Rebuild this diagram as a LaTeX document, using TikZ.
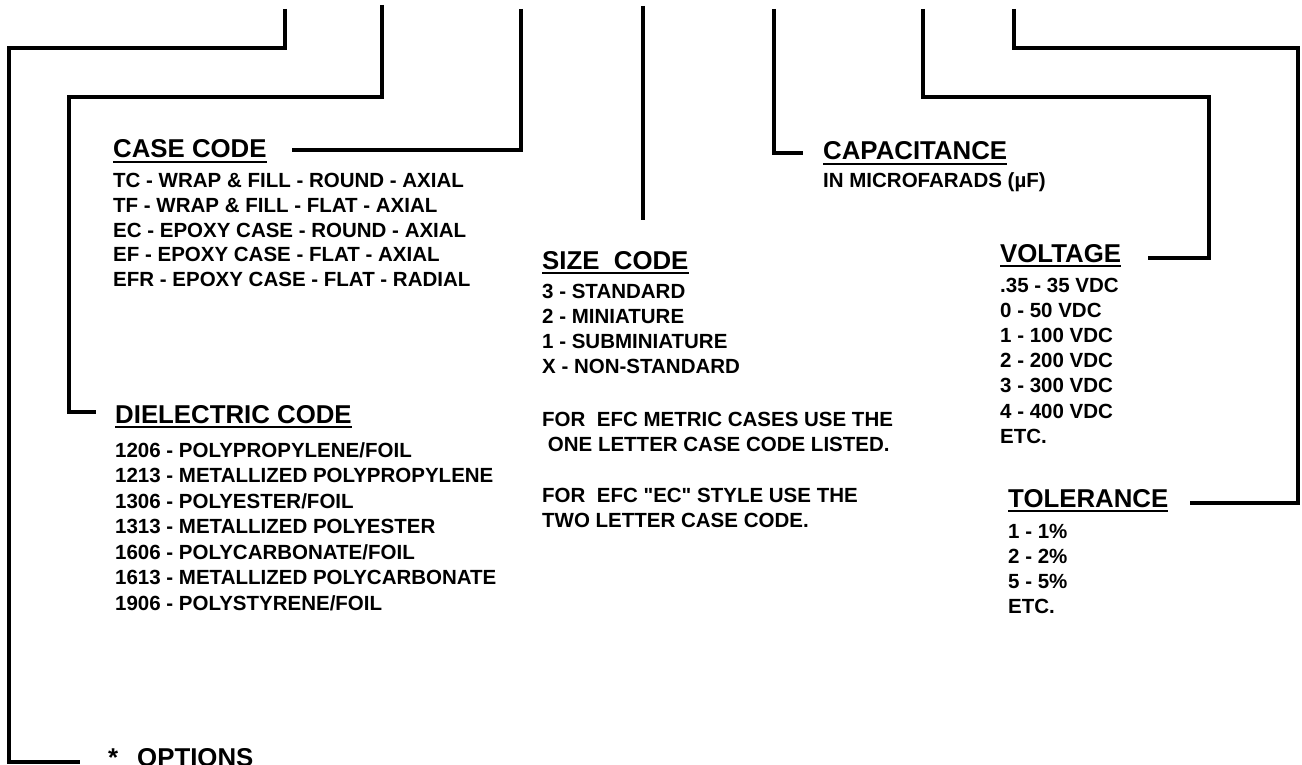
\documentclass[tikz,border=0pt]{standalone}
\usepackage{fontspec}
\setmainfont{Liberation Sans}
\newfontfamily\lsans{Liberation Sans}
\begin{document}
\begin{tikzpicture}[x=1pt,y=-1pt,
  conn/.style={line width=4pt, line join=miter},
  hdr/.style={anchor=base west, inner sep=0pt, font=\lsans\fontsize{25.8}{30}\selectfont\bfseries},
  body/.style={anchor=base west, inner sep=0pt, font=\lsans\fontsize{20.5}{25}\selectfont\bfseries},
  uline/.style={line width=1.5pt}]
\fill[white] (0,0) rectangle (1302,765);
\useasboundingbox (0,0) rectangle (1302,765);

% ---------- headers ----------
\node[hdr] (casehdr) at (113,158) {CASE CODE};
\node[hdr] (diehdr) at (115,423) {DIELECTRIC CODE};
\node[hdr] (sizehdr) at (542,269) {SIZE\ \ CODE};
\node[hdr] (caphdr) at (823,160) {CAPACITANCE};
\node[hdr] (volthdr) at (1000,262) {VOLTAGE};
\node[hdr] (tolhdr) at (1008,507) {TOLERANCE};
\node[hdr] (opthdr) at (108,766) {*\hspace{19pt}OPTIONS};
\foreach \n in {casehdr,diehdr,sizehdr,caphdr,volthdr,tolhdr}
  \draw[uline] ([yshift=-4pt]\n.base west) -- ([yshift=-4pt]\n.base east);

% ---------- lists ----------
\foreach \t [count=\i from 0] in {TC - WRAP \& FILL - ROUND - AXIAL,TF - WRAP \& FILL - FLAT - AXIAL,EC - EPOXY CASE - ROUND - AXIAL,EF - EPOXY CASE - FLAT - AXIAL,EFR - EPOXY CASE - FLAT - RADIAL}
  \node[body] (cc\i) at (113,188+24.5*\i) {\t};

\foreach \t [count=\i from 0] in {1206 - POLYPROPYLENE/FOIL,1213 - METALLIZED POLYPROPYLENE,1306 - POLYESTER/FOIL,1313 - METALLIZED POLYESTER,1606 - POLYCARBONATE/FOIL,1613 - METALLIZED POLYCARBONATE,1906 - POLYSTYRENE/FOIL}
  \node[body] (dc\i) at (115,457+25.5*\i) {\t};

\foreach \t [count=\i from 0] in {3 - STANDARD,2 - MINIATURE,1 - SUBMINIATURE,X - NON-STANDARD}
  \node[body] (sc\i) at (542,298+25*\i) {\t};

\node[body] (note1) at (542,426) {FOR\ \ EFC METRIC CASES USE THE};
\node[body] (note2) at (542,451) {\ ONE LETTER CASE CODE LISTED.};
\node[body] (note3) at (542,502) {FOR\ \ EFC "EC" STYLE USE THE};
\node[body] (note4) at (542,527) {TWO LETTER CASE CODE.};

\node[body] (capunit) at (823,188) {IN MICROFARADS (µF)};

\foreach \t [count=\i from 0] in {.35 - 35 VDC,0 - 50 VDC,1 - 100 VDC,2 - 200 VDC,3 - 300 VDC,4 - 400 VDC,ETC.}
  \node[body] (vc\i) at (1000,292+25.2*\i) {\t};

\foreach \t [count=\i from 0] in {1 - 1\%,2 - 2\%,5 - 5\%,ETC.}
  \node[body] (tc\i) at (1008,538+25.3*\i) {\t};

% ---------- connector ends ----------
\coordinate (tA) at (285,9);   \coordinate (eA) at (80,762);
\coordinate (tB) at (382,5);   \coordinate (eB) at (96,412);
\coordinate (tC) at (521,9);   \coordinate (eC) at (292,150);
\coordinate (tD) at (643,6);   \coordinate (eD) at (643,220);
\coordinate (tE) at (774,9);   \coordinate (eE) at (803,153);
\coordinate (tF) at (923,9);   \coordinate (eF) at (1148,258);
\coordinate (tG) at (1014,9);  \coordinate (eG) at (1190,503);

% ---------- connectors ----------
\draw[conn] (tA) -- (285,48) -- (9,48) -- (9,762) -- (eA);
\draw[conn] (tB) -- (382,97) -- (69,97) -- (69,412) -- (eB);
\draw[conn] (tC) -- (521,150) -- (eC);
\draw[conn] (tD) -- (eD);
\draw[conn] (tE) -- (774,153) -- (eE);
\draw[conn] (tF) -- (923,97) -- (1209,97) -- (1209,258) -- (eF);
\draw[conn] (tG) -- (1014,48) -- (1298,48) -- (1298,503) -- (eG);
\end{tikzpicture}
\end{document}
